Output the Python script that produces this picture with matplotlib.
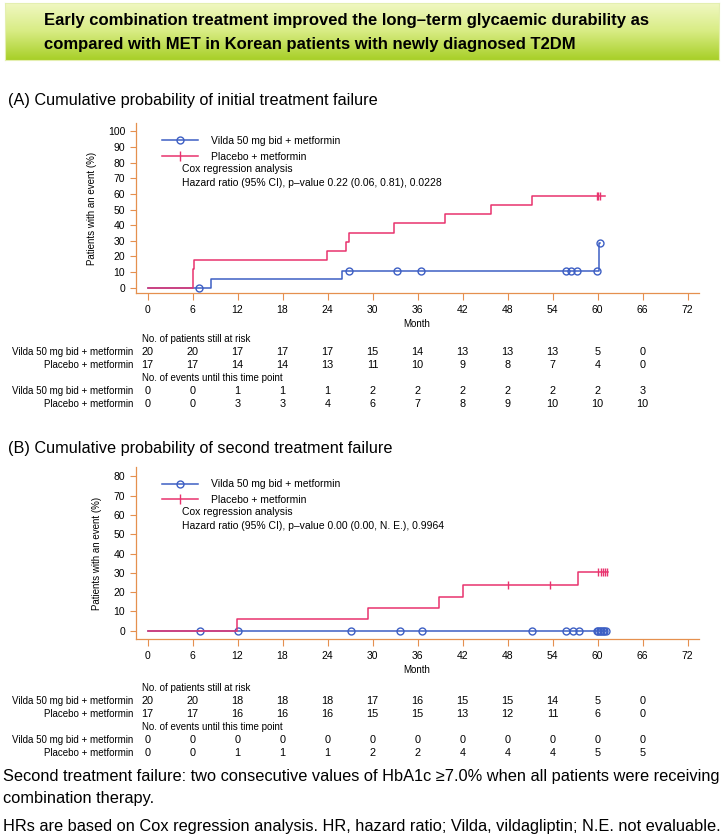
import numpy as np
import matplotlib
matplotlib.use('Agg')
import matplotlib.pyplot as plt
from matplotlib import transforms
from matplotlib.lines import Line2D
from matplotlib.colors import LinearSegmentedColormap

W, H = 724, 839
plt.rcParams['font.family'] = ['Liberation Sans', 'DejaVu Sans']

BLUE = '#3d5fc4'
PINK = '#e8336e'
AXC = '#e5904f'

months = [0, 6, 12, 18, 24, 30, 36, 42, 48, 54, 60, 66, 72]
table_months = [0, 6, 12, 18, 24, 30, 36, 42, 48, 54, 60, 66]

# (A) initial treatment failure
a_vilda_t = [0, 8.4, 25.9, 60.2, 60.3]
a_vilda_y = [0, 5.3, 10.8, 28.8, 28.8]
a_vilda_cens = [6.85, 26.8, 33.3, 36.4, 55.8, 56.4, 57.3, 59.9, 60.3]
a_plac_t = [0, 6.0, 6.2, 23.9, 26.5, 26.9, 32.9, 39.6, 45.8, 51.2, 61.0]
a_plac_y = [0, 11.8, 17.6, 23.5, 29.4, 35.3, 41.2, 47.1, 52.9, 58.8, 58.8]
a_plac_cens = [59.9, 60.1, 60.3]
a_risk_vilda = [20, 20, 17, 17, 17, 15, 14, 13, 13, 13, 5, 0]
a_risk_plac = [17, 17, 14, 14, 13, 11, 10, 9, 8, 7, 4, 0]
a_ev_vilda = [0, 0, 1, 1, 1, 2, 2, 2, 2, 2, 2, 3]
a_ev_plac = [0, 0, 3, 3, 4, 6, 7, 8, 9, 10, 10, 10]
a_yticks = [0, 10, 20, 30, 40, 50, 60, 70, 80, 90, 100]

# (B) second treatment failure
b_vilda_t = [0, 61.2]
b_vilda_y = [0, 0]
b_vilda_cens = [7.0, 12.0, 27.1, 33.6, 36.6, 51.3, 55.8, 56.7, 57.5,
                59.9, 60.1, 60.3, 60.5, 60.7, 60.9, 61.1]
b_plac_t = [0, 11.9, 29.4, 38.9, 42.1, 57.4, 61.4]
b_plac_y = [0, 5.9, 11.8, 17.6, 23.5, 30.5, 30.5]
b_plac_cens = [48.1, 53.6, 60.1, 60.4, 60.7, 61.0, 61.3]
b_risk_vilda = [20, 20, 18, 18, 18, 17, 16, 15, 15, 14, 5, 0]
b_risk_plac = [17, 17, 16, 16, 16, 15, 15, 13, 12, 11, 6, 0]
b_ev_vilda = [0, 0, 0, 0, 0, 0, 0, 0, 0, 0, 0, 0]
b_ev_plac = [0, 0, 1, 1, 1, 2, 2, 4, 4, 4, 5, 5]
b_yticks = [0, 10, 20, 30, 40, 50, 60, 70, 80]

lab_vilda = 'Vilda 50 mg bid + metformin'
lab_plac = 'Placebo + metformin'


def fx(px):
    return px / W


def fy(py):
    return 1 - py / H


def step_at(t, y, c):
    i = np.searchsorted(t, c, side='right') - 1
    return np.array(y)[i]


fig = plt.figure(figsize=(W / 100, H / 100), dpi=100)

# title box with gradient
tax = fig.add_axes([fx(5), fy(60), fx(714), 57 / H])
cmap = LinearSegmentedColormap.from_list('g', ['#f1f8c4', '#d8ec84', '#a8cf28'])
tax.imshow(np.linspace(0, 1, 100).reshape(-1, 1), aspect='auto', cmap=cmap,
           extent=[0, 1, 0, 1], origin='upper')
tax.set_xticks([])
tax.set_yticks([])
for s in tax.spines.values():
    s.set_color('#e4efb0')
fig.text(fx(44), fy(21), 'Early combination treatment improved the long\u2013term glycaemic durability as',
         fontsize=12, fontweight='bold', va='center', ha='left')
fig.text(fx(44), fy(45), 'compared with MET in Korean patients with newly diagnosed T2DM',
         fontsize=12, fontweight='bold', va='center', ha='left')


def panel(top, bottom, ylim, yticks, vt, vy, vc, pt, py, pc, hr, tab_y, risk, events, head, head_y):
    fig.text(fx(8), fy(head_y), head, fontsize=11.7, va='center', ha='left')
    ax = fig.add_axes([fx(135.5), fy(bottom), fx(698.75 - 135.5), (bottom - top) / H])
    ax.set_xlim(-1.6, 73.5)
    ax.set_ylim(*ylim)
    for s in ['top', 'right']:
        ax.spines[s].set_visible(False)
    for s in ['left', 'bottom']:
        ax.spines[s].set_color(AXC)
        ax.spines[s].set_linewidth(0.9)
    ax.set_xticks(months)
    ax.set_yticks(yticks)
    ax.tick_params(colors=AXC, labelcolor='black', labelsize=7.5, length=4, width=0.8)
    ax.tick_params(axis='x', length=5, pad=3.5)
    ax.set_xlabel('Month', fontsize=7, labelpad=3)
    ax.set_ylabel('Patients with an event (%)', fontsize=7, labelpad=8)

    ax.step(vt, vy, where='post', color=BLUE, lw=1.1, zorder=2)
    ax.plot(vc, step_at(vt, vy, vc), 'o', mfc='none', mec=BLUE, ms=5, mew=1, zorder=3)
    ax.step(pt, py, where='post', color=PINK, lw=1.1, zorder=4)
    ax.plot(pc, step_at(pt, py, pc), '|', color=PINK, ms=6, mew=1, zorder=5)

    hv = Line2D([], [], color=BLUE, lw=1.1, marker='o', mfc='none', mec=BLUE, ms=5)
    hp = Line2D([], [], color=PINK, lw=1.1, marker='|', ms=7)
    ax.legend([hv, hp], [lab_vilda, lab_plac], loc='upper left',
              bbox_to_anchor=(fx(161.7), fy(top + 12.5)), bbox_transform=fig.transFigure,
              frameon=False, fontsize=7.5, handlelength=3.5, handletextpad=1.2,
              borderpad=0, borderaxespad=0, labelspacing=0.55, numpoints=1)
    fig.text(fx(181.7), fy(top + 45), 'Cox regression analysis', fontsize=7.5, va='center')
    fig.text(fx(181.7), fy(top + 59), hr, fontsize=7.5, va='center')

    tr = transforms.blended_transform_factory(ax.transData, fig.transFigure)
    y0 = tab_y
    fig.text(fx(142), fy(y0), 'No. of patients still at risk', fontsize=7, va='center')
    fig.text(fx(142), fy(y0 + 39), 'No. of events until this time point', fontsize=7, va='center')
    rows = [(y0 + 13, lab_vilda, risk[0]), (y0 + 26, lab_plac, risk[1]),
            (y0 + 52, lab_vilda, events[0]), (y0 + 65, lab_plac, events[1])]
    for yy, lab, vals in rows:
        fig.text(fx(133), fy(yy), lab, fontsize=7, va='center', ha='right')
        for m, v in zip(table_months, vals):
            ax.text(m, fy(yy), str(v), transform=tr, fontsize=7.8, va='center', ha='center')
    return ax


panel(123.5, 293.2, (-3.5, 105), a_yticks, a_vilda_t, a_vilda_y, a_vilda_cens,
      a_plac_t, a_plac_y, a_plac_cens,
      'Hazard ratio (95% CI), p\u2013value 0.22 (0.06, 0.81), 0.0228',
      339, (a_risk_vilda, a_risk_plac), (a_ev_vilda, a_ev_plac),
      '(A) Cumulative probability of initial treatment failure', 101)

panel(466.7, 639.4, (-4.5, 85), b_yticks, b_vilda_t, b_vilda_y, b_vilda_cens,
      b_plac_t, b_plac_y, b_plac_cens,
      'Hazard ratio (95% CI), p\u2013value 0.00 (0.00, N. E.), 0.9964',
      688, (b_risk_vilda, b_risk_plac), (b_ev_vilda, b_ev_plac),
      '(B) Cumulative probability of second treatment failure', 448)

fig.text(fx(3), fy(777), 'Second treatment failure: two consecutive values of HbA1c \u22657.0% when all patients were receiving',
         fontsize=11.8, va='center')
fig.text(fx(3), fy(798), 'combination therapy.', fontsize=11.8, va='center')
fig.text(fx(3), fy(827), 'HRs are based on Cox regression analysis. HR, hazard ratio; Vilda, vildagliptin; N.E. not evaluable.',
         fontsize=11.8, va='center')

fig.savefig('out.png', dpi=100)
